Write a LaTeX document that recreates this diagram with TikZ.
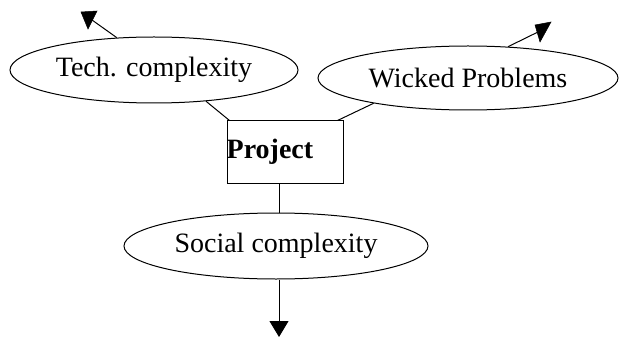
\documentclass[tikz,border=0pt]{standalone}
\usepackage{fontspec}
\setmainfont{Liberation Serif}
\usetikzlibrary{shapes.geometric,arrows.meta}
\begin{document}
\begin{tikzpicture}[x=1pt,y=-1pt,
  every node/.style={font=\fontsize{28}{32}\selectfont},
  oval/.style={draw,ellipse,inner sep=0pt,line width=1pt},
  conn/.style={line width=1pt},
  head/.style={fill=black,draw=black,line width=0.5pt,line join=miter},
  arr/.style={line width=1pt,-{Triangle[width=19pt,length=16pt]}}]
\useasboundingbox[fill=white] (0,0) rectangle (620,339);
\node[oval,minimum width=288pt,minimum height=66pt] (tech) at (154,70) {Tech. complexity};
\node[oval,minimum width=300pt,minimum height=64pt] (wick) at (468,78) {Wicked Problems};
\node[oval,minimum width=304pt,minimum height=66pt] (soc) at (276,246) {Social complexity};
\node[draw,line width=1pt,minimum width=116pt,minimum height=62pt,inner sep=0pt] (proj) at (285,152) {};
\node[anchor=west,inner sep=0pt,font=\fontsize{28}{32}\selectfont\bfseries] (projtxt) at (proj.west) {Project};
% tech arrowhead
\coordinate (t1) at (81,12);
\coordinate (t2) at (97,11);
\coordinate (t3) at (88,29);
\coordinate (tb) at (92,20);
% wicked arrowhead
\coordinate (w1) at (535,25);
\coordinate (w2) at (551,22);
\coordinate (w3) at (540,42);
\coordinate (wb) at (540,31);
\coordinate (sa) at (279,337);
\draw[conn] (tech.139) -- (tb);
\path[head] (t1) -- (t2) -- (t3) -- cycle;
\draw[conn] (wick.38) -- (wb);
\path[head] (w1) -- (w2) -- (w3) -- cycle;
\draw[conn] (tech.-31) -- ([xshift=3pt]proj.north west);
\draw[conn] (wick.-165) -- ([xshift=-6pt]proj.north east);
\draw[conn] ([xshift=-6pt]proj.south) -- ([xshift=-6pt]proj.south |- soc.north);
\draw[arr] (soc.south -| sa) -- (sa);
\end{tikzpicture}
\end{document}
